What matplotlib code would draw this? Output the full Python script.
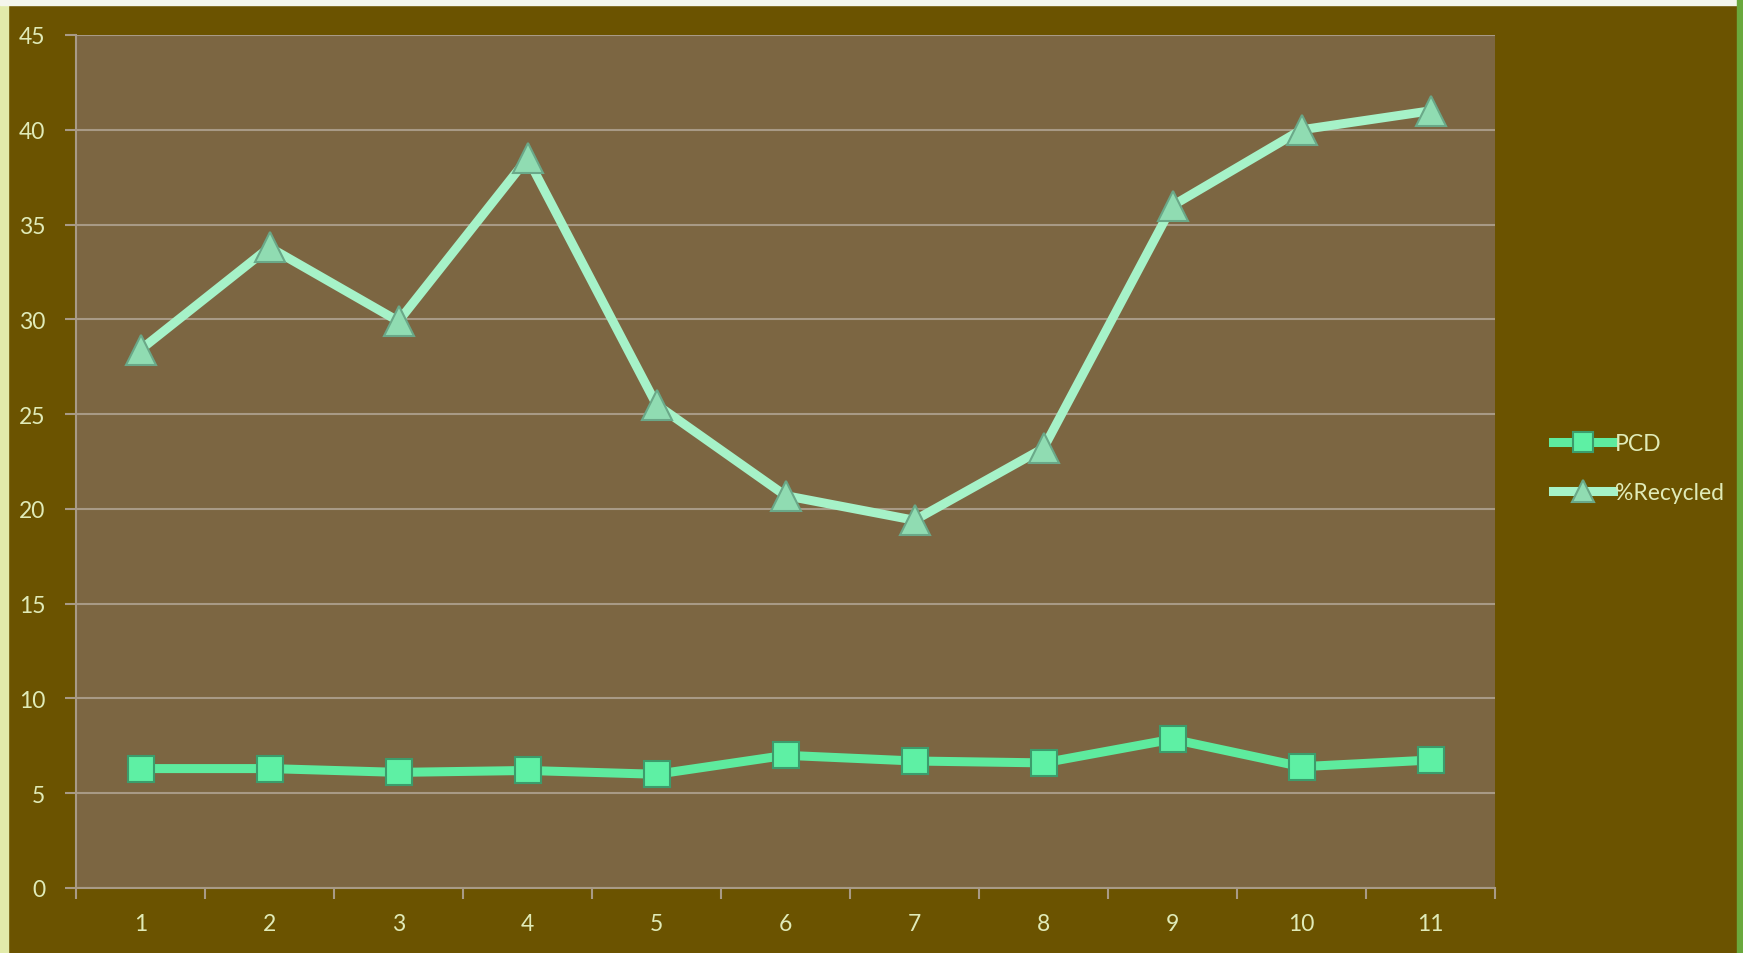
import matplotlib.pyplot as plt
from matplotlib.patches import Rectangle

categories = [str(i) for i in range(1, 12)]
pcd = [6.3, 6.3, 6.1, 6.2, 6.0, 7.0, 6.7, 6.6, 7.85, 6.4, 6.75]
recycled = [28.4, 33.8, 29.9, 38.5, 25.5, 20.7, 19.4, 23.2, 36.0, 40.0, 41.0]

bg = '#6b5300'
plot_bg = '#7c6642'
text_col = '#e0ebb8'
grid_col = '#a89a86'

plt.rcParams['font.family'] = ['Lato', 'DejaVu Sans']

fig = plt.figure(figsize=(17.43, 9.54), dpi=100, facecolor=bg)
# pale edges of the slide around the chart
fig.patches.append(Rectangle((0, 0), 0.0045, 1, transform=fig.transFigure, color='#e2ebaa', zorder=0))
fig.patches.append(Rectangle((0, 0.9935), 1, 0.0065, transform=fig.transFigure, color='#f4f6ec', zorder=0))
fig.patches.append(Rectangle((0.9965, 0), 0.0035, 1, transform=fig.transFigure, color='#6aa83c', zorder=0))

ax = fig.add_axes([76 / 1743, 1 - 889 / 954, (1495 - 76) / 1743, (889 - 36) / 954])
ax.set_facecolor(plot_bg)

x = list(range(1, len(categories) + 1))
ax.plot(x, pcd, color='#5eeb9e', lw=6.5, marker='s', ms=19,
        mfc='#5ef0a4', mec='#3c9c6c', mew=1.5, label='PCD', zorder=3)
ax.plot(x, recycled, color='#a6f2c8', lw=6.5, marker='^', ms=21,
        mfc='#90dcb2', mec='#6aa888', mew=1.5, label='%Recycled', zorder=3)

ax.set_xlim(0.5, len(categories) + 0.5)
ax.set_ylim(0, 45)
ax.set_yticks(range(0, 46, 5))
ax.set_xticks(x)
ax.set_xticklabels(categories)
ax.set_xticks([i + 0.5 for i in range(0, len(categories) + 1)], minor=True)
ax.tick_params(axis='x', which='major', length=0, pad=18, labelsize=16.5, labelcolor=text_col)
ax.tick_params(axis='x', which='minor', length=8, width=1.5, color=grid_col, direction='out')
ax.tick_params(axis='y', length=8, width=1.5, color=grid_col, labelsize=16.5, labelcolor=text_col, pad=14)

ax.grid(axis='y', color=grid_col, lw=1.5)
ax.set_axisbelow(True)
for s in ['top', 'right']:
    ax.spines[s].set_visible(False)
for s in ['left', 'bottom']:
    ax.spines[s].set_color(grid_col)
    ax.spines[s].set_linewidth(1.5)

leg = fig.legend(loc='center left', bbox_to_anchor=(1553 / 1743, 1 - 469 / 954), frameon=False,
                 fontsize=16.5, labelcolor=text_col, handlelength=2.6, handletextpad=0.1,
                 labelspacing=1.2, markerscale=0.75, borderpad=0, borderaxespad=0)

fig.savefig('out.png', dpi=100, facecolor=bg)
